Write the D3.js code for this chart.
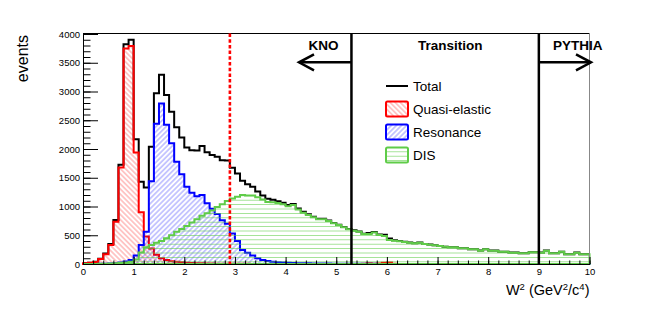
<!DOCTYPE html>
<html><head><meta charset="utf-8">
<script src="https://cdn.jsdelivr.net/npm/d3@7"></script>
<style>
body{margin:0;background:#fff;}
svg{display:block;}
text{font-family:"Liberation Sans",Arial,Helvetica,sans-serif;}
</style>
</head><body>
<svg id="c" width="654" height="314"></svg>
<script>
// ---- data ----
const binLow = 0, binWidth = 0.1;
const quasiElastic = [
 15,20,35,85,170,330,735,1680,3750,3790,
 1940,900,480,270,160,100,70,50,40,30,
 22,18,14,11,9,7,6,5,4,4,
 3,3,3,2,2,2,2,2,1,1,
 1,1,1,1,1,1,1,1,1,1,
 1,1,1,1,1,3,15,5,8,20,
 25,5,2,1,1,1,0,0,0,0,
 0,0,0,0,0,0,0,0,0,0,
 0,0,0,0,0,0,0,0,0,0,
 0,0,0,0,0,0,0,0,0,0];
const resonance = [
 0,0,2,4,6,10,15,25,45,70,
 150,330,560,1440,2440,2790,2420,2100,1780,1560,
 1345,1240,1180,1200,1055,960,870,760,700,530,
 400,243,195,150,100,68,52,40,32,26,
 22,18,15,13,11,10,9,8,7,6,
 5,5,4,4,3,3,3,3,2,2,
 2,2,2,2,2,1,1,1,1,1,
 1,1,1,1,1,1,1,1,1,1,
 1,1,1,1,1,1,1,1,1,1,
 1,1,1,1,1,1,1,1,1,1];
const dis = [
 0,0,2,4,6,10,15,20,25,40,
 80,200,290,330,370,400,450,500,560,610,
 660,720,780,840,881,930,990,1040,1095,1140,
 1170,1200,1190,1190,1160,1120,1080,1075,1060,1040,
 1005,1026,950,893,852,812,777,777,748,707,
 678,638,603,580,562,522,522,550,505,487,
 417,406,394,383,371,359,371,348,336,325,
 313,301,290,290,273,273,255,255,232,255,
 232,232,214,214,197,197,186,186,203,203,
 197,232,186,186,214,168,168,197,168,168];
const total = [
 15,20,39,93,182,350,765,1725,3820,3900,
 2170,1430,1330,2040,2970,3290,2940,2650,2380,2200,
 2027,1978,1974,2051,1945,1897,1866,1805,1799,1674,
 1573,1446,1388,1342,1262,1190,1134,1117,1093,1067,
 1028,1045,966,907,864,823,787,786,756,714,
 684,644,608,585,566,528,540,558,515,509,
 444,413,398,386,374,361,372,349,337,326,
 314,302,291,291,274,274,256,256,233,256,
 233,233,215,215,198,198,187,187,204,204,
 198,233,187,187,215,169,169,198,169,169];
const xTicks = [0,1,2,3,4,5,6,7,8,9,10];
const yTicks = [0,500,1000,1500,2000,2500,3000,3500,4000];
const dashedCut = 2.9;
const regionLines = [5.3, 9.0];
const regionLabels = [
  {text:"KNO", at:4.75},
  {text:"Transition", at:7.25},
  {text:"PYTHIA", at:9.77}
];
const legendItems = [
  {name:"Total", key:"total"},
  {name:"Quasi-elastic", key:"qe"},
  {name:"Resonance", key:"res"},
  {name:"DIS", key:"dis"}
];

// ---- layout ----
const svg = d3.select("#c");
const L = 83, R = 589.5, T = 33.5, B = 264;
const x = d3.scaleLinear().domain([0,10]).range([L,R]);
const y = d3.scaleLinear().domain([0,4000]).range([B,34]);

const RED = "#ff0000", BLUE = "#0000ff", GREEN = "#5fcc48";

// patterns
const defs = svg.append("defs");
function hatch(id, color, angle, gap, op){
  const p = defs.append("pattern").attr("id",id)
    .attr("patternUnits","userSpaceOnUse")
    .attr("width",10).attr("height",gap)
    .attr("patternTransform",`rotate(${angle})`);
  p.append("line").attr("x1",0).attr("x2",10).attr("y1",gap/2).attr("y2",gap/2)
    .attr("stroke",color).attr("stroke-width",0.8).attr("stroke-opacity",op);
}
hatch("hQE", RED, 45, 3.6, 0.55);
hatch("hRES", BLUE, -45, 3.6, 0.55);
hatch("hDIS", GREEN, 0, 4.4, 0.75);

const styles = {
  total:{color:"#000", fill:"none"},
  qe:{color:RED, fill:"url(#hQE)"},
  res:{color:BLUE, fill:"url(#hRES)"},
  dis:{color:GREEN, fill:"url(#hDIS)"}
};

function pts(arr){
  const p = arr.map((v,i)=>({e:binLow+i*binWidth, v}));
  p.push({e:binLow+arr.length*binWidth, v:arr[arr.length-1]});
  return p;
}
const area = d3.area().curve(d3.curveStepAfter)
  .x(d=>x(d.e)).y0(y(0)).y1(d=>y(d.v));
const line = d3.line().curve(d3.curveStepAfter)
  .x(d=>x(d.e)).y(d=>y(d.v));

const g = svg.append("g");
// total
g.append("path").attr("d", line(pts(total)))
  .attr("fill","none").attr("stroke","#000").attr("stroke-width",2);
// components
[["qe",quasiElastic],["res",resonance],["dis",dis]].forEach(([k,arr])=>{
  g.append("path").attr("d", area(pts(arr)))
    .attr("fill",styles[k].fill).attr("stroke",styles[k].color)
    .attr("stroke-width",2).attr("stroke-linejoin","miter");
});

// frame top/right
svg.append("line").attr("x1",L).attr("x2",R).attr("y1",T).attr("y2",T)
  .attr("stroke","#000").attr("stroke-width",1.2);
svg.append("line").attr("x1",R).attr("x2",R).attr("y1",T).attr("y2",B)
  .attr("stroke","#888").attr("stroke-width",1);

// axes
const yMinor = d3.range(0,4001,100);
svg.append("g").attr("transform",`translate(${L},0)`)
  .call(d3.axisLeft(y).tickValues(yMinor).tickSize(-7.5).tickFormat(""))
  .call(a=>a.select(".domain").remove())
  .call(a=>a.selectAll("line").attr("stroke","#000"));
const yAx = svg.append("g").attr("transform",`translate(${L},0)`)
  .call(d3.axisLeft(y).tickValues(yTicks).tickSizeInner(-15).tickSizeOuter(0).tickPadding(3).tickFormat(d3.format("d")));
yAx.selectAll("text").attr("font-size",9.5).attr("fill","#000")
  .attr("font-family",'"Liberation Sans",Arial,sans-serif');
yAx.select(".domain").attr("stroke","#000");

const xMinor = d3.range(0,10.001,0.2);
svg.append("g").attr("transform",`translate(0,${B})`)
  .call(d3.axisBottom(x).tickValues(xMinor).tickSize(-3.5).tickFormat(""))
  .call(a=>a.select(".domain").remove());
const xAx = svg.append("g").attr("transform",`translate(0,${B})`)
  .call(d3.axisBottom(x).tickValues(xTicks).tickSizeInner(-7).tickSizeOuter(0).tickPadding(4).tickFormat(d3.format("d")));
xAx.selectAll("text").attr("font-size",9.5).attr("fill","#000")
  .attr("font-family",'"Liberation Sans",Arial,sans-serif');
xAx.select(".domain").attr("stroke","#000");

// dashed cut line
svg.append("line").attr("x1",x(dashedCut)).attr("x2",x(dashedCut))
  .attr("y1",T).attr("y2",B).attr("stroke",RED).attr("stroke-width",2.6)
  .attr("stroke-dasharray","3.5,2.2");

// region lines
regionLines.forEach(v=>{
  svg.append("line").attr("x1",x(v)).attr("x2",x(v)).attr("y1",T).attr("y2",B)
    .attr("stroke","#000").attr("stroke-width",2.5);
});
// arrows
const ay = 62.3;
function arrow(x1,x2){
  const dir = x2 > x1 ? -1 : 1;
  svg.append("line").attr("x1",x1).attr("x2",x2).attr("y1",ay).attr("y2",ay)
    .attr("stroke","#000").attr("stroke-width",2.5);
  svg.append("path").attr("d",`M${x2+dir*15},${ay-8} L${x2},${ay} L${x2+dir*15},${ay+8}`)
    .attr("fill","none").attr("stroke","#000").attr("stroke-width",2.5);
}
arrow(x(regionLines[0]), 299);
arrow(x(regionLines[1]), 591);

regionLabels.forEach(r=>{
  svg.append("text").attr("x",x(r.at)).attr("y",50).attr("text-anchor","middle")
    .attr("font-weight","bold").attr("font-size",13.5).text(r.text);
});

// legend
const lx = 385, ly0 = 86, ldy = 23;
legendItems.forEach((it,i)=>{
  const cy = ly0 + i*ldy;
  const s = styles[it.key];
  if(it.key==="total"){
    svg.append("line").attr("x1",lx+1).attr("x2",lx+23).attr("y1",cy).attr("y2",cy)
      .attr("stroke","#000").attr("stroke-width",2);
  } else {
    svg.append("rect").attr("x",lx+1).attr("y",cy-7.5).attr("width",22).attr("height",15)
      .attr("rx",1.5).attr("fill",s.fill).attr("stroke",s.color).attr("stroke-width",2);
  }
  svg.append("text").attr("x",lx+28).attr("y",cy+4.9).attr("font-size",13.5).text(it.name);
});

// axis titles
const xt = svg.append("text").attr("x",R).attr("y",295).attr("text-anchor","end").attr("font-size",14.5);
xt.append("tspan").text("W");
xt.append("tspan").attr("font-size",9.5).attr("dy",-5.5).text("2");
xt.append("tspan").attr("dy",5.5).text(" (GeV");
xt.append("tspan").attr("font-size",9.5).attr("dy",-5.5).text("2");
xt.append("tspan").attr("dy",5.5).text("/c");
xt.append("tspan").attr("font-size",9.5).attr("dy",-5.5).text("4");
xt.append("tspan").attr("dy",5.5).text(")");

svg.append("text").attr("transform","translate(28,35) rotate(-90)")
  .attr("text-anchor","end").attr("font-size",16).text("events");
</script>
</body></html>
